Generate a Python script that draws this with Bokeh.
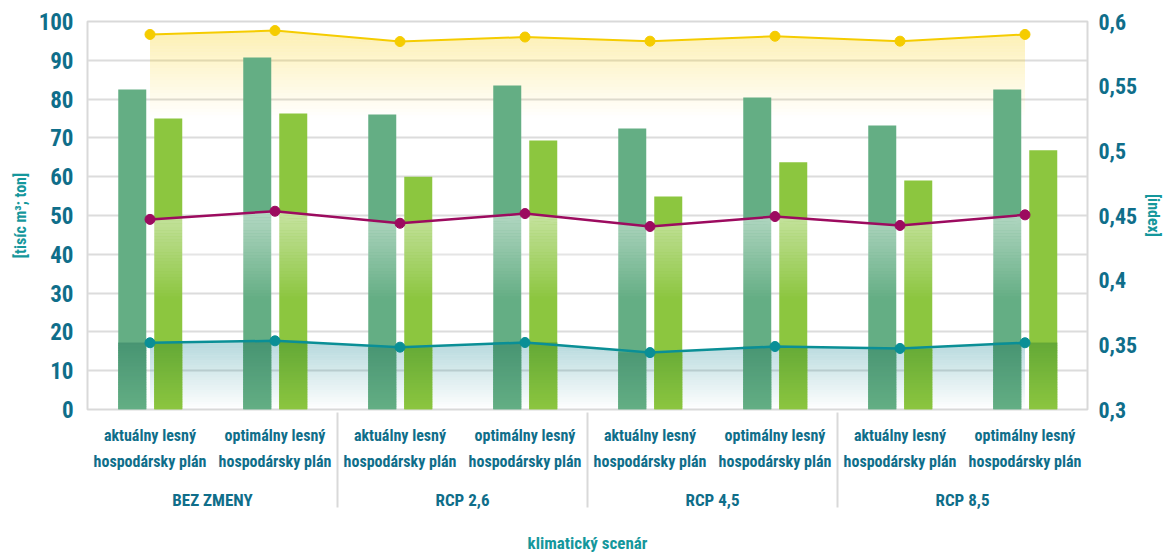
import numpy as np
from bokeh.plotting import figure
from bokeh.models import (FactorRange, Range1d, LinearAxis, FixedTicker,
                          CustomJSTickFormatter, ColumnDataSource)
from bokeh.transform import dodge
from bokeh.embed import file_html
from bokeh.resources import INLINE

# ---------------- data ----------------
scenarios = ["BEZ ZMENY", "RCP 2,6", "RCP 4,5", "RCP 8,5"]
plans = ["aktuálny lesný\nhospodársky plán", "optimálny lesný\nhospodársky plán"]

bars_dark = [82.5, 90.7, 76.0, 83.5, 72.4, 80.4, 73.2, 82.5]     # left axis
bars_light = [75.0, 76.3, 60.0, 69.3, 54.9, 63.7, 59.0, 66.8]    # left axis
line_yellow = [0.590, 0.593, 0.5845, 0.588, 0.5848, 0.5886, 0.5848, 0.590]   # right axis
line_purple = [0.447, 0.4533, 0.444, 0.4515, 0.4415, 0.4492, 0.4423, 0.4505]
line_teal = [0.3516, 0.3531, 0.3482, 0.3518, 0.344, 0.3487, 0.3472, 0.3516]

left_ticks = [0, 10, 20, 30, 40, 50, 60, 70, 80, 90, 100]
right_ticks = [0.3, 0.35, 0.4, 0.45, 0.5, 0.55, 0.6]

# ---------------- style ----------------
FONT = "Roboto Condensed"
TICK_COLOR = "#0f6e8a"
TITLE_COLOR = "#15979c"
DARK = (100, 174, 132)
LIGHT = (140, 198, 63)
TEAL_TINT = (5, 125, 138)


def hexc(rgb):
    return "#%02x%02x%02x" % tuple(int(round(max(0, min(255, c)))) for c in rgb)


factors = [(s, pl) for s in scenarios for pl in plans]

p = figure(x_range=FactorRange(*factors, range_padding=0, group_padding=0,
                               subgroup_padding=0, factor_padding=0),
           y_range=Range1d(0, 100), width=1166, height=557,
           output_backend="svg", toolbar_location=None,
           min_border_left=87, min_border_right=79, min_border_top=21,
           min_border_bottom=148)
p.extra_y_ranges = {"idx": Range1d(0.3, 0.6)}
p.background_fill_color = "white"
p.border_fill_color = "white"
p.outline_line_color = "#d9d9d9"
p.outline_line_width = 2

p.xgrid.grid_line_color = None
p.ygrid.grid_line_color = "#dcdcdc"
p.ygrid.grid_line_width = 2
p.ygrid.ticker = FixedTicker(ticks=left_ticks)


def gradient_area(top_vals, y_bottom, rgb, a_top, n=28):
    top = np.array(top_vals, dtype=float)
    ymax = top.max()
    edges = np.linspace(y_bottom, ymax, n + 1)
    for k in range(n):
        lo, hi = edges[k], edges[k + 1]
        y1 = np.minimum(lo, top)
        y2 = np.minimum(hi, top)
        if np.all(y2 <= y1):
            continue
        alpha = a_top * (((lo + hi) / 2 - y_bottom) / (ymax - y_bottom))
        p.varea(x=factors, y1=y1, y2=y2, fill_color=hexc(rgb),
                fill_alpha=float(alpha), y_range_name="idx")


# yellow and teal background areas (under the bars)
gradient_area(line_yellow, 0.525, (248, 205, 0), 0.30)
gradient_area(line_teal, 0.30, TEAL_TINT, 0.30)

# bars
src = ColumnDataSource(dict(x=factors, dark=bars_dark, light=bars_light))
OFF_D, OFF_L, W = -0.142, 0.146, 0.224
p.vbar(x=dodge("x", OFF_D, range=p.x_range), top="dark", width=W, source=src,
       fill_color=hexc(DARK), line_color=None)
p.vbar(x=dodge("x", OFF_L, range=p.x_range), top="light", width=W, source=src,
       fill_color=hexc(LIGHT), line_color=None)


# darkening (multiply-like) of bars under the teal area
def bar_overlay(base_rgb, offset, n=28, a_top=0.30):
    teal = np.array(line_teal)
    ymax = teal.max()
    edges = np.linspace(0.3, ymax, n + 1)
    xs, bot, tp, cols = [], [], [], []
    for k in range(n):
        lo, hi = edges[k], edges[k + 1]
        a = a_top * (((lo + hi) / 2 - 0.3) / (ymax - 0.3))
        m = [1 - a * (1 - tc / 255) for tc in TEAL_TINT]
        col = hexc([b * mm for b, mm in zip(base_rgb, m)])
        for i, f in enumerate(factors):
            t = min(hi + 0.0004, teal[i])
            if t > lo:
                xs.append(f); bot.append(lo); tp.append(t); cols.append(col)
    s = ColumnDataSource(dict(x=xs, b=bot, t=tp, c=cols))
    p.vbar(x=dodge("x", offset, range=p.x_range), bottom="b", top="t", width=W,
           source=s, fill_color="c", line_color=None, y_range_name="idx")


bar_overlay(DARK, OFF_D)
bar_overlay(LIGHT, OFF_L)

# white glow under purple line (over bars)
gradient_area(line_purple, 0.385, (255, 255, 255), 0.52)

# lines
for vals, col, lw in [(line_yellow, "#f5cc00", 2), (line_purple, "#9c0b5f", 2.5),
                      (line_teal, "#0a8f96", 2.5)]:
    p.line(x=factors, y=vals, line_color=col, line_width=lw, y_range_name="idx")
    p.scatter(x=factors, y=vals, size=10, fill_color=col, line_color=col,
              y_range_name="idx")

# ---------------- axes ----------------
yl = p.yaxis[0]
yl.ticker = FixedTicker(ticks=left_ticks)
yl.axis_line_color = None
yl.major_tick_line_color = None
yl.minor_tick_line_color = None
yl.major_tick_out = 0
yl.major_tick_in = 0
yl.major_label_text_font = FONT
yl.major_label_text_font_style = "bold"
yl.major_label_text_font_size = "23px"
yl.major_label_text_color = TICK_COLOR
yl.major_label_standoff = 14
yl.axis_label = "[tisíc m³; ton]"
yl.axis_label_text_font = FONT
yl.axis_label_text_font_style = "bold"
yl.axis_label_text_font_size = "16px"
yl.axis_label_text_color = TITLE_COLOR
yl.axis_label_standoff = 6

yr = LinearAxis(y_range_name="idx")
yr.ticker = FixedTicker(ticks=right_ticks)
yr.formatter = CustomJSTickFormatter(
    code="return String(Math.round(tick*100)/100).replace('.', ',');")
yr.axis_line_color = None
yr.major_tick_line_color = None
yr.minor_tick_line_color = None
yr.major_tick_out = 0
yr.major_tick_in = 0
yr.major_label_text_font = FONT
yr.major_label_text_font_style = "bold"
yr.major_label_text_font_size = "22px"
yr.major_label_text_color = TICK_COLOR
yr.major_label_standoff = 11
yr.axis_label = "[index]"
yr.axis_label_text_font = FONT
yr.axis_label_text_font_style = "bold"
yr.axis_label_text_font_size = "16px"
yr.axis_label_text_color = TITLE_COLOR
yr.axis_label_standoff = 4
p.add_layout(yr, "right")

xa = p.xaxis[0]
xa.axis_line_color = None
xa.major_tick_line_color = None
xa.minor_tick_line_color = None
xa.major_tick_out = 0
xa.major_tick_in = 0
xa.major_label_text_font = FONT
xa.major_label_text_font_style = "bold"
xa.major_label_text_font_size = "16px"
xa.major_label_text_line_height = 1.4
xa.major_label_text_color = TICK_COLOR
xa.major_label_standoff = 16
xa.group_text_font = FONT
xa.group_text_font_style = "bold"
xa.group_text_font_size = "17px"
xa.group_text_color = TICK_COLOR
xa.separator_line_color = "#d9d9d9"
xa.separator_line_width = 2
xa.axis_label = "klimatický scenár"
xa.axis_label_text_font = FONT
xa.axis_label_text_font_style = "bold"
xa.axis_label_text_font_size = "17px"
xa.axis_label_text_color = TITLE_COLOR
xa.axis_label_standoff = 20

open("out.html", "w").write(file_html(p, INLINE))
